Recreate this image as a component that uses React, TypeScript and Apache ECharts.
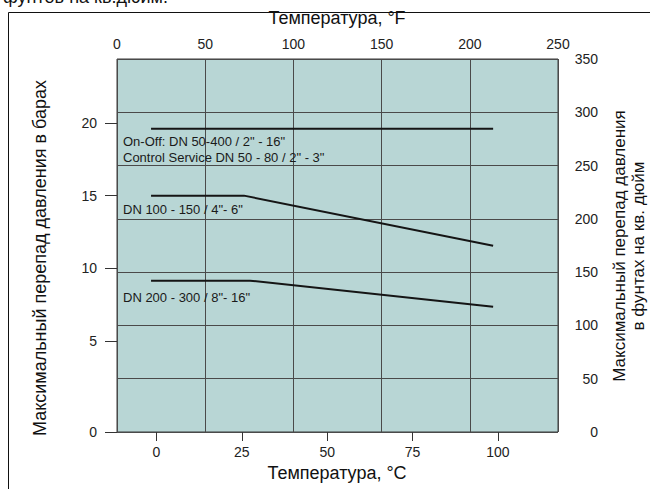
import React, { useEffect, useRef } from "react";
import * as echarts from "echarts";

// Axis ticks
const F_TICKS = [0, 50, 100, 150, 200, 250];
const C_TICKS = [0, 25, 50, 75, 100];
const BAR_TICKS = [0, 5, 10, 15, 20];
const PSI_TICKS = [0, 50, 100, 150, 200, 250, 300, 350];

// Series: x = temperature °C, y = max differential pressure, bar
const onOffC = [-1.6, 98.6];
const onOffBar = [19.6, 19.6];
const dn100C = [-1.6, 25.6, 98.6];
const dn100Bar = [15.0, 15.0, 11.55];
const dn200C = [-1.6, 27.4, 98.6];
const dn200Bar = [9.15, 9.15, 7.35];

const seriesLabels = [
  'On-Off: DN 50-400 / 2" - 16"',
  'Control Service DN 50 - 80 / 2" - 3"',
  'DN 100 - 150 / 4"- 6"',
  'DN 200 - 300 / 8"- 16"',
];

const FONT = "'Liberation Sans', Arial, sans-serif";
// bottom of the drawn bar scale (the "0" label sits at the plot's bottom edge)
const BAR_MIN = -1.26;
const BAR_MAX = 24.4;

const zip = (xs: number[], ys: number[]) => xs.map((x, i) => [x, ys[i]]);

export default function App() {
  const ref = useRef<HTMLDivElement>(null);
  useEffect(() => {
    if (!ref.current) return;
    const chart = echarts.init(ref.current, undefined, { renderer: "svg" });
    const lineStyle = { color: "#151515", width: 2 };
    const barPositions = BAR_TICKS.map((v) => (v === 0 ? BAR_MIN : v));
    const label = { fontSize: 14, color: "#222", fontFamily: FONT };
    chart.setOption({
      animation: false,
      textStyle: { fontFamily: FONT },
      grid: {
        left: 117,
        right: 92,
        top: 59,
        bottom: 57,
        show: true,
        backgroundColor: "#b8d6d5",
        borderColor: "#3a3a3a",
        borderWidth: 1,
      },
      xAxis: [
        {
          type: "value",
          position: "bottom",
          min: -11.57,
          max: 117.6,
          axisLine: { show: false, onZero: false },
          splitLine: { show: false },
          axisTick: {
            show: true,
            customValues: C_TICKS,
            length: 9,
            lineStyle: { color: "#333" },
          },
          axisLabel: { ...label, customValues: C_TICKS, margin: 13 },
        },
        {
          type: "value",
          position: "top",
          min: 0,
          max: 250,
          interval: 50,
          axisLine: { show: false, onZero: false },
          axisTick: { show: false },
          splitLine: { show: true, lineStyle: { color: "#4a4a4a", width: 1 } },
          axisLabel: { ...label, customValues: F_TICKS, margin: 8 },
        },
      ],
      yAxis: [
        {
          type: "value",
          position: "left",
          min: BAR_MIN,
          max: BAR_MAX,
          axisLine: { show: false, onZero: false },
          splitLine: { show: false },
          axisTick: {
            show: true,
            customValues: barPositions,
            length: 12,
            lineStyle: { color: "#333" },
          },
          axisLabel: {
            ...label,
            customValues: barPositions,
            formatter: (v: number) => String(BAR_TICKS[barPositions.indexOf(v)] ?? Math.round(v)),
            margin: 20,
          },
        },
        {
          type: "value",
          position: "right",
          min: 0,
          max: 350,
          interval: 50,
          axisLine: { show: false, onZero: false },
          axisTick: { show: false },
          splitLine: { show: true, lineStyle: { color: "#4a4a4a", width: 1 } },
          axisLabel: { ...label, customValues: PSI_TICKS, align: "right", margin: 40 },
        },
      ],
      series: [
        { type: "line", xAxisIndex: 0, yAxisIndex: 0, data: zip(onOffC, onOffBar), showSymbol: false, lineStyle, z: 5 },
        { type: "line", xAxisIndex: 0, yAxisIndex: 0, data: zip(dn100C, dn100Bar), showSymbol: false, lineStyle, z: 5 },
        { type: "line", xAxisIndex: 0, yAxisIndex: 0, data: zip(dn200C, dn200Bar), showSymbol: false, lineStyle, z: 5 },
      ],
      graphic: [
        {
          type: "rect",
          shape: { x: 8.5, y: 12.5, width: 700, height: 600 },
          style: { fill: "none", stroke: "#111", lineWidth: 1 },
          silent: true,
          z: -1,
        },
        {
          type: "text",
          x: 3,
          y: -3,
          style: { text: "фунтов на кв.дюйм.", font: `18px ${FONT}`, fill: "#111", verticalAlign: "middle" },
        },
        {
          type: "text",
          x: 337,
          y: 18,
          style: { text: "Температура, °F", font: `18px ${FONT}`, fill: "#111", align: "center", verticalAlign: "middle" },
        },
        {
          type: "text",
          x: 337,
          y: 473,
          style: { text: "Температура, °C", font: `18px ${FONT}`, fill: "#111", align: "center", verticalAlign: "middle" },
        },
        {
          type: "text",
          x: 40,
          y: 258,
          rotation: Math.PI / 2,
          style: { text: "Максимальный перепад давления в барах", font: `18px ${FONT}`, fill: "#111", align: "center", verticalAlign: "middle" },
        },
        {
          type: "text",
          x: 629,
          y: 246,
          rotation: Math.PI / 2,
          style: {
            text: "Максимальный перепад давления\nв фунтах на кв. дюйм",
            font: `17px ${FONT}`,
            lineHeight: 19,
            fill: "#111",
            align: "center",
            verticalAlign: "middle",
          },
        },
        {
          type: "text",
          x: 123,
          y: 141,
          z: 10,
          style: { text: seriesLabels[0], font: `13px ${FONT}`, fill: "#1a1a1a", verticalAlign: "middle" },
        },
        {
          type: "text",
          x: 123,
          y: 157,
          z: 10,
          style: { text: seriesLabels[1], font: `13px ${FONT}`, fill: "#1a1a1a", verticalAlign: "middle" },
        },
        {
          type: "text",
          x: 123,
          y: 209,
          z: 10,
          style: { text: seriesLabels[2], font: `13px ${FONT}`, fill: "#1a1a1a", verticalAlign: "middle" },
        },
        {
          type: "text",
          x: 123,
          y: 297,
          z: 10,
          style: { text: seriesLabels[3], font: `13px ${FONT}`, fill: "#1a1a1a", verticalAlign: "middle" },
        },
      ],
    });
    return () => chart.dispose();
  }, []);
  return <div ref={ref} style={{ width: 650, height: 489, position: "absolute", left: 0, top: 0 }} />;
}
